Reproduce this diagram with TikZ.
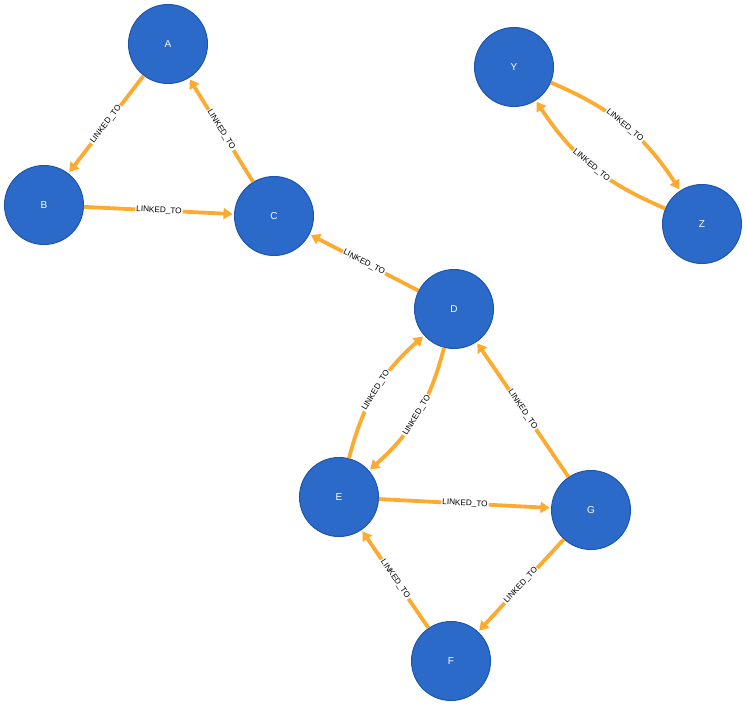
\documentclass[tikz,border=0pt]{standalone}
\usepackage{fontspec}
\setmainfont{Liberation Sans}
\usetikzlibrary{arrows.meta}
\definecolor{nodeblue}{HTML}{2B6AC8}
\definecolor{nodeedge}{HTML}{1D55AE}
\definecolor{linkorange}{HTML}{FDAB30}
\tikzset{
  gnode/.style={circle, fill=nodeblue, draw=nodeedge, line width=1pt, minimum size=79pt, inner sep=0pt, text=white, font=\fontsize{10}{11}\selectfont},
  link/.style={draw=linkorange, line width=3.8pt, -{Triangle[length=9pt,width=11pt]}, shorten >=1.5pt},
  lbl/.style={sloped, fill=white, inner sep=1pt, text=black, font=\fontsize{8.2}{9}\selectfont}
}
\begin{document}
\begin{tikzpicture}[x=1pt,y=-1pt]
\useasboundingbox (0,0) rectangle (746,704);
\node[gnode] (A) at (168,44) {A};
\node[gnode] (B) at (44,205) {B};
\node[gnode] (C) at (274,216) {C};
\node[gnode] (D) at (454,309) {D};
\node[gnode] (E) at (339,497) {E};
\node[gnode] (G) at (591,510) {G};
\node[gnode] (F) at (451,661) {F};
\node[gnode] (Y) at (514,67) {Y};
\node[gnode] (Z) at (702,224) {Z};
\draw[link] (A) -- node[lbl] {LINKED\_TO} (B);
\draw[link] (C) -- node[lbl] {LINKED\_TO} (A);
\draw[link] (B) -- node[lbl] {LINKED\_TO} (C);
\draw[link] (D) -- node[lbl] {LINKED\_TO} (C);
\draw[link] (E) to[bend left=17] node[lbl] {LINKED\_TO} (D);
\draw[link] (D) to[bend left=17] node[lbl] {LINKED\_TO} (E);
\draw[link] (E) -- node[lbl] {LINKED\_TO} (G);
\draw[link] (G) -- node[lbl] {LINKED\_TO} (D);
\draw[link] (G) -- node[lbl] {LINKED\_TO} (F);
\draw[link] (F) -- node[lbl] {LINKED\_TO} (E);
\draw[link] (Y) to[bend left=17] node[lbl] {LINKED\_TO} (Z);
\draw[link] (Z) to[bend left=17] node[lbl] {LINKED\_TO} (Y);
\end{tikzpicture}
\end{document}
